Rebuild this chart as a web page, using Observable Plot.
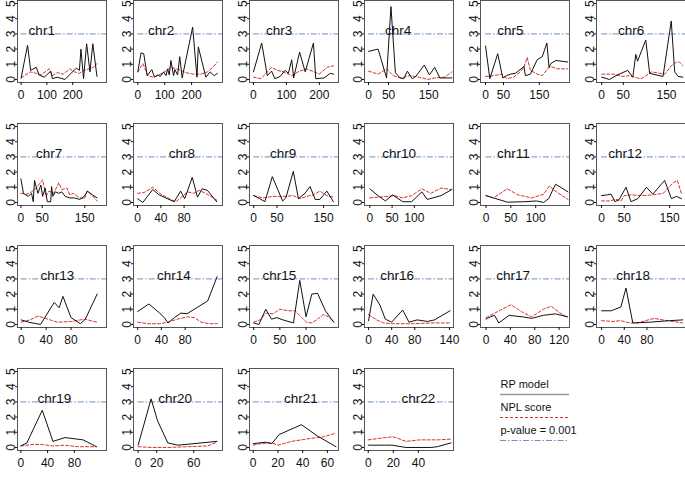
<!DOCTYPE html>
<html><head><meta charset="utf-8">
<script src="https://cdn.jsdelivr.net/npm/d3@7"></script>
<script src="https://cdn.jsdelivr.net/npm/@observablehq/plot@0.6"></script>
<style>
body{margin:0;background:#fff;}
#wrap{position:relative;width:685px;height:497px;overflow:hidden;background:#fff;font-family:"Liberation Sans",Arial,sans-serif;}
#wrap > svg{position:absolute;}
</style></head><body><div id="wrap"></div>
<script>
const chromosomes = ["chr1","chr2","chr3","chr4","chr5","chr6","chr7","chr8","chr9","chr10","chr11","chr12","chr13","chr14","chr15","chr16","chr17","chr18","chr19","chr20","chr21","chr22"];
const pThreshold = 3;
const yTicks = [0,1,2,3,4,5];
const yDomain = [-0.2, 5.2];

// RP model (black solid): positions (cM) and scores
const rpPos = [
  [0,25,37,59,69,90,115,121,140,170,214,226,232,242,254,267,278,294],
  [0,12,22,35,52,62,74,84,96,105,111,117,123,133,138,148,156,165,204,220,225,253,269,284,296],
  [0,25,42,55,65,81,96,106,116,122,140,157,182,189,214,233,243],
  [0,24,45,56,67,79,88,97,109,118,139,152,165,178,208],
  [0,12,34,48,59,69,83,107,111,125,144,158,171,177,182,196,229],
  [0,18,33,60,72,79,83,102,111,142,161,169,177,188],
  [0,6,17,25,29,32,40,47,51,57,62,70,72,75,81,89,96,104,115,126,138,149,156,168,179],
  [0,9,26,37,51,63,74,81,94,103,111,120,136],
  [0,13,24,40,62,69,85,96,110,121,132,142,157,171],
  [0,16,35,51,74,94,117,129,160,184],
  [0,15,43,78,102,116,126,140,165],
  [0,13,21,30,39,54,65,80,99,113,139,154,165,176],
  [0,12,31,53,61,67,80,95,103,122],
  [0,19,37,45,51,62,73,83,118,134],
  [0,10,23,34,44,56,76,88,100,111,122,137,153],
  [0,8,20,29,40,59,70,84,102,114,141],
  [0,7,14,21,38,60,75,94,114,134],
  [0,17,34,43,55,85,120,143],
  [0,9,32,48,66,93,113],
  [0,14,21,32,43,68,85],
  [0,10,15,21,39,52,67],
  [0,13,19,30,50,55,66]
];
const rpScore = [
  [0.1,2.25,0.6,0.8,0.3,0.15,0.55,0.05,0.15,0.0,0.75,0.6,2.0,0.05,2.35,0.5,2.35,0.2],
  [0.5,1.75,1.7,0.25,0.65,0.15,0.3,0.2,0.5,0.25,0.7,0.3,1.25,0.25,0.65,0.3,1.5,0.1,3.45,0.15,2.15,0.15,0.5,0.25,0.4],
  [0.5,2.4,0.25,0.55,0.05,0.2,0.6,0.4,1.3,0.1,1.8,0.5,2.4,0.05,0.1,0.4,0.35],
  [1.85,2.0,0.1,4.8,0.45,0.1,0.05,0.55,0.05,0.2,0.95,0.3,0.8,0.1,0.1],
  [2.2,0.05,1.7,0.1,0.25,0.35,0.4,0.85,0.25,0.35,1.3,1.5,2.4,0.8,1.05,1.25,1.15],
  [0.15,0.0,0.25,0.6,0.15,1.65,1.2,2.6,0.4,0.2,3.85,0.5,0.2,0.15],
  [1.55,0.6,0.4,0.6,0.05,1.45,0.6,1.15,0.4,0.95,0.05,0.05,1.05,0.4,0.7,0.6,0.7,0.4,0.3,0.3,0.2,0.4,0.75,0.5,0.3],
  [0.25,0.0,0.85,0.5,0.25,0.05,0.75,0.25,1.65,0.35,0.9,0.8,0.05],
  [0.45,0.25,0.05,1.7,0.1,0.3,2.05,0.25,0.6,1.05,0.2,0.2,0.75,0.05],
  [0.9,0.5,0.1,0.5,0.05,0.05,0.7,0.2,0.45,0.85],
  [0.45,0.3,0.02,0.05,0.1,0.0,0.25,1.2,0.7],
  [0.45,0.5,0.55,0.05,0.2,1.0,0.05,0.25,1.0,0.55,1.45,0.25,0.4,0.25],
  [0.3,0.15,0.0,1.45,1.1,1.85,0.45,0.05,0.35,2.0],
  [0.85,1.35,0.75,0.45,0.1,0.45,0.75,0.7,1.55,3.15],
  [0.1,0.0,1.0,0.35,0.45,0.3,0.1,2.9,0.5,2.0,2.05,0.9,0.15],
  [0.25,2.0,1.25,0.35,0.15,0.95,0.15,0.3,0.2,0.3,0.9],
  [0.35,0.5,0.6,0.1,0.6,0.5,0.4,0.6,0.7,0.5],
  [0.9,0.9,1.15,2.4,0.1,0.15,0.25,0.3],
  [0.1,0.3,2.45,0.4,0.65,0.5,0.05],
  [0.15,3.2,1.75,0.3,0.15,0.3,0.4],
  [0.25,0.35,0.25,0.85,1.5,0.75,0.05],
  [0.15,0.15,0.15,0.0,0.0,0.05,0.3]
];

// NPL score (red dashed): positions and scores
const nplPos = [
  [0,35,59,78,109,121,140,164,189,207,226,244,263,281,294],
  [0,19,37,56,74,99,123,142,160,179,204,235,259,284,296],
  [0,23,42,55,72,91,116,135,160,184,199,224,243],
  [0,24,45,62,79,105,126,148,165,190,208],
  [0,22,45,59,78,97,107,116,125,144,158,173,182,201,229],
  [0,26,49,64,82,91,103,115,126,146,161,173,180,188],
  [0,14,25,36,51,59,66,77,89,96,108,115,123,138,149,156,168,179],
  [0,11,26,40,57,66,77,86,97,106,117,126,136],
  [0,20,42,63,85,99,114,128,142,157,171],
  [0,20,43,55,74,94,117,137,160,184],
  [0,15,43,64,92,116,128,137,165],
  [0,17,32,43,50,65,91,113,136,158,167,176],
  [0,14,27,35,58,81,102,122],
  [0,17,37,51,67,84,96,107,121,134],
  [0,12,24,37,50,66,79,92,101,111,122,133,143,153],
  [0,14,26,40,78,108,141],
  [0,12,24,41,58,75,94,107,120,134],
  [0,20,34,49,64,82,93,108,126,143],
  [0,18,32,47,66,85,113],
  [0,14,32,54,75,85],
  [0,6,15,20,31,39,47,57,67],
  [0,9,19,22,30,41,55,66]
];
const nplScore = [
  [0.1,0.5,0.4,0.3,0.7,0.25,0.45,0.35,0.7,0.5,0.4,0.6,0.7,0.8,1.05],
  [0.5,1.05,0.25,0.15,0.25,0.5,0.8,0.7,0.6,0.45,0.35,0.35,0.5,0.9,1.15],
  [0.15,0.05,0.5,0.8,0.6,0.5,0.25,0.5,0.7,0.5,0.35,0.8,0.9],
  [0.55,0.35,0.7,0.25,0.1,0.25,0.15,0.0,0.1,0.15,0.5],
  [0.2,0.25,0.35,0.05,0.15,0.5,0.8,1.45,0.6,0.35,0.25,0.7,0.85,0.7,0.7],
  [0.35,0.35,0.2,0.25,0.1,0.05,0.25,0.5,0.45,0.35,0.9,1.15,1.15,0.9],
  [0.6,0.55,0.7,0.95,1.5,0.4,0.75,0.6,1.3,0.85,0.95,0.5,0.6,0.3,0.25,0.75,0.45,0.1],
  [0.6,0.65,1.0,0.55,0.2,0.05,0.4,0.7,0.6,0.8,0.6,0.4,0.15],
  [0.45,0.3,0.4,0.4,0.45,0.25,0.4,0.5,0.75,0.45,0.35],
  [0.3,0.35,0.4,0.45,0.3,0.45,0.9,0.6,0.95,0.85],
  [0.45,0.3,0.9,0.5,0.3,0.55,1.1,0.8,0.2],
  [0.1,0.1,0.2,0.1,0.45,0.5,0.45,0.5,0.6,1.3,1.45,0.6],
  [0.15,0.3,0.55,0.45,0.15,0.2,0.35,0.15],
  [0.15,0.05,0.05,0.15,0.35,0.5,0.45,0.15,0.05,0.05],
  [0.15,0.3,0.75,0.7,1.0,0.9,0.9,0.45,0.15,0.1,0.35,0.65,0.5,0.15],
  [0.65,0.3,0.1,0.05,0.05,0.1,0.1],
  [0.45,0.7,0.95,1.3,0.85,0.5,1.0,1.2,0.8,0.45],
  [0.25,0.2,0.25,0.1,0.1,0.3,0.4,0.3,0.2,0.1],
  [0.1,0.2,0.2,0.1,0.15,0.05,0.05],
  [0.05,0.0,0.0,0.05,0.1,0.35],
  [0.15,0.25,0.3,0.15,0.4,0.5,0.6,0.7,0.95],
  [0.5,0.6,0.7,0.65,0.4,0.5,0.5,0.55]
];

// x-axis extents (cM) and tick labels per chromosome
const xMin = [-14,-16,-12,-10,-14,-12,-8,-7,-9,-12,-11,-11,-6,-7,-8,-7,-9,-9,-5,-5,-3,-3];
const xMax = [331,315,258,212,234,194,201,146,182,188,168,185,137,143,162,147,137,148,128,91,69,68];
const xTickLabels = [
  [0,100,200],[0,100,200],[0,100,200],[0,50,150],[0,50,150],[0,50,150],
  [0,50,150],[0,40,80],[0,50,150],[0,50,100],[0,50,100],[0,50,150],
  [0,40,80],[0,40,80],[0,50,100],[0,40,80,140],[0,40,80,120],[0,40,80],
  [0,40,80],[0,20,60],[0,20,40,60],[0,20,40]
];
// where each chromosome name sits (cM)
const labelPos = [80,87,78,74,69,68,66,76,63,66,55,52,58,61,49,49.5,44.5,55.5,50,40,38.6,40];
const labelScore = 2.9;

const legendItems = ["RP model", "NPL score", "p-value = 0.001"];

const red = "#d8322e";
const blue = "#6f8fbf";
const font = "'Liberation Sans', Arial, sans-serif";

const wrap = document.getElementById("wrap");
chromosomes.forEach((name, i) => {
  const col = i % 6, row = Math.floor(i / 6);
  const rp = rpPos[i].map((x, j) => ({x, y: rpScore[i][j]}));
  const npl = nplPos[i].map((x, j) => ({x, y: nplScore[i][j]}));
  const svg = Plot.plot({
    width: 116, height: 110,
    marginLeft: 17, marginRight: 10, marginTop: 2, marginBottom: 26,
    style: {fontFamily: font, background: "transparent", overflow: "visible", color: "#111"},
    x: {domain: [xMin[i], xMax[i]]},
    y: {domain: yDomain},
    marks: [
      Plot.ruleY([pThreshold], {x1: 0, x2: xMax[i], stroke: blue, strokeWidth: 1, strokeDasharray: "6,2,1.5,2"}),
      Plot.line(npl, {x: "x", y: "y", stroke: red, strokeWidth: 1, strokeDasharray: "3,2"}),
      Plot.line(rp, {x: "x", y: "y", stroke: "#111", strokeWidth: 1}),
      Plot.text([name], {x: [labelPos[i]], y: [labelScore], text: d => d, fontSize: 13.5, lineAnchor: "bottom", textAnchor: "middle", fill: "#111"}),
      Plot.frame({stroke: "#555"}),
      Plot.axisX({ticks: xTickLabels[i], tickSize: 3, tickPadding: 5, fontSize: 12, label: null}),
      Plot.axisY({ticks: yTicks, tickSize: 2, tickFormat: () => "", label: null}),
      Plot.text(yTicks, {y: d => d, text: d => String(d), frameAnchor: "left", dx: -3, rotate: -90, lineAnchor: "bottom", textAnchor: "middle", fontSize: 12, fill: "#111"})
    ]
  });
  const boxLeft = Math.round(17 + col * 115.8);
  svg.style.left = (boxLeft - 17) + "px";
  svg.style.top = (Math.round(row * 122.7) - 2) + "px";
  wrap.appendChild(svg);
});

// legend
const legend = Plot.plot({
  width: 95, height: 70,
  marginLeft: 5, marginRight: 21, marginTop: 0, marginBottom: 0,
  style: {fontFamily: font, background: "transparent", overflow: "visible"},
  x: {domain: [0, 1], axis: null},
  y: {type: "point", domain: legendItems, range: [9, 55], padding: 0, axis: null},
  marks: [
    Plot.text(legendItems, {x: 0, y: d => d, text: d => d, textAnchor: "start", fontSize: 11, fill: "#111"}),
    Plot.ruleY([legendItems[0]], {x1: 0, x2: 1, dy: 10, stroke: "#999", strokeWidth: 1.5}),
    Plot.ruleY([legendItems[1]], {x1: 0, x2: 1, dy: 10, stroke: red, strokeWidth: 1, strokeDasharray: "3,2"}),
    Plot.ruleY([legendItems[2]], {x1: 0, x2: 1, dy: 10, stroke: blue, strokeWidth: 1, strokeDasharray: "6,2,1.5,2"})
  ]
});
legend.style.left = "495px";
legend.style.top = "375px";
wrap.appendChild(legend);
</script>
</body></html>
